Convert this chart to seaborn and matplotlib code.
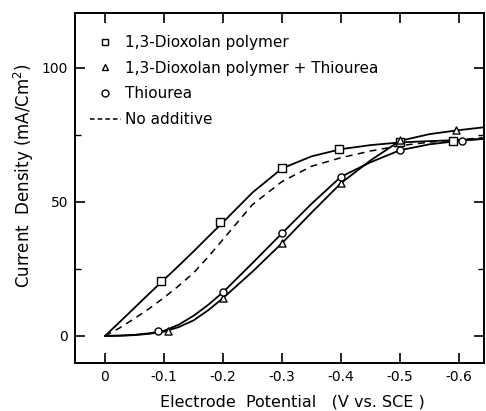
import matplotlib
matplotlib.use("Agg")
import matplotlib.pyplot as plt
from matplotlib.lines import Line2D
from matplotlib.ticker import FixedLocator
import pandas as pd
import seaborn as sns

# Measured points: cathodic potential magnitude (V vs. SCE) and current density (mA/cm^2)
dioxolan_x = [0.095, 0.195, 0.300, 0.397, 0.500, 0.590]
dioxolan_y = [20.6, 42.4, 62.7, 69.7, 72.3, 72.9]
combo_x = [0.107, 0.200, 0.300, 0.400, 0.500, 0.595]
combo_y = [1.7, 14.1, 34.6, 57.0, 73.0, 76.8]
thiourea_x = [0.090, 0.200, 0.300, 0.400, 0.500, 0.605]
thiourea_y = [2.0, 16.3, 38.3, 59.4, 69.3, 72.8]

# Traced polarization curves
curve_x = [0, 0.025, 0.05, 0.075, 0.10, 0.125, 0.15, 0.175, 0.20, 0.25, 0.30,
           0.35, 0.40, 0.45, 0.50, 0.55, 0.60, 0.64]
dioxolan_curve = [0, 5.2, 10.5, 15.8, 21.0, 26.2, 31.5, 37.0, 42.4, 53.5, 62.5,
                  67.0, 69.7, 71.2, 72.2, 72.7, 73.1, 73.5]
combo_curve = [0, 0.1, 0.3, 0.8, 1.6, 3.3, 5.8, 9.6, 14.1, 24.0, 34.6,
               46.0, 57.0, 65.5, 72.8, 75.3, 76.8, 77.8]
thiourea_curve = [0, 0.1, 0.4, 1.0, 1.9, 4.2, 7.5, 11.6, 16.3, 27.2, 38.3,
                  49.3, 59.4, 64.8, 69.3, 71.5, 72.8, 73.5]
no_additive_curve = [0, 3.0, 6.5, 10.2, 14.3, 18.7, 23.5, 29.5, 36.0, 49.0, 57.6,
                     63.3, 66.5, 69.0, 71.0, 72.3, 73.2, 74.0]

x_ticks = [0, 0.1, 0.2, 0.3, 0.4, 0.5, 0.6]
x_tick_labels = ["0", "-0.1", "-0.2", "-0.3", "-0.4", "-0.5", "-0.6"]
y_ticks = [0, 50, 100]
y_tick_labels = ["0", "50", "100"]

legend_labels = ["1,3-Dioxolan polymer", "1,3-Dioxolan polymer + Thiourea",
                 "Thiourea", "No additive"]

sns.set_theme(style="ticks")
plt.rcParams["font.family"] = ["DejaVu Sans"]
plt.rcParams.update({"text.color": "black", "axes.labelcolor": "black",
                     "xtick.color": "black", "ytick.color": "black"})

fig = plt.figure(figsize=(4.86, 4.11), dpi=100)
ax = fig.add_axes([75 / 486, 1 - 363 / 411, 409 / 486, 350 / 411])

lw = 1.3
for ys in (dioxolan_curve, combo_curve, thiourea_curve):
    df = pd.DataFrame({"x": curve_x, "y": ys})
    sns.lineplot(data=df, x="x", y="y", ax=ax, color="black", lw=lw,
                 sort=False, estimator=None)
df = pd.DataFrame({"x": curve_x, "y": no_additive_curve})
sns.lineplot(data=df, x="x", y="y", ax=ax, color="black", lw=1.1,
             sort=False, estimator=None, dashes=False, linestyle=(0, (4.5, 3.5)))

for xs, ys, m in ((dioxolan_x, dioxolan_y, "s"),
                  (combo_x, combo_y, "^"),
                  (thiourea_x, thiourea_y, "o")):
    df = pd.DataFrame({"x": xs, "y": ys})
    sns.scatterplot(data=df, x="x", y="y", ax=ax, marker=m, s=26,
                    facecolor="white", edgecolor="black", linewidth=1.0, zorder=5)

ax.set_xlim(-0.0508, 0.6424)
ax.set_ylim(-10.1, 120.5)
ax.set_xticks(x_ticks)
ax.set_xticklabels(x_tick_labels, fontsize=10)
ax.set_yticks(y_ticks)
ax.set_yticklabels(y_tick_labels, fontsize=10)
ax.yaxis.set_minor_locator(FixedLocator([25, 75]))
ax.tick_params(which="major", direction="in", length=7, width=1.2,
               top=True, right=True, colors="black")
ax.tick_params(which="minor", direction="in", length=4, width=1.0,
               left=True, right=True, colors="black")
ax.tick_params(axis="x", pad=5)
ax.tick_params(axis="y", pad=5)
for sp in ax.spines.values():
    sp.set_visible(True)
    sp.set_linewidth(1.4)
    sp.set_color("black")

ax.set_xlabel("Electrode  Potential   (V vs. SCE )", fontsize=11.5,
              ha="left", va="center")
ax.xaxis.set_label_coords((160 - 75) / 409, (363 - 402) / 350)
ax.set_ylabel("Current  Density (mA/Cm$^2$)", fontsize=12,
              ha="center", va="center")
ax.yaxis.set_label_coords((24 - 75) / 409, (363 - 176) / 350)

handles = [
    Line2D([], [], ls="none", marker="s", ms=5, mfc="white", mec="black", mew=1.0),
    Line2D([], [], ls="none", marker="^", ms=5, mfc="white", mec="black", mew=1.0),
    Line2D([], [], ls="none", marker="o", ms=5, mfc="white", mec="black", mew=1.0),
    Line2D([], [], color="black", lw=1.1, ls=(0, (3, 2))),
]
ax.legend(handles, legend_labels, loc="upper left",
          bbox_to_anchor=((90 - 75) / 409, (363 - 35) / 350),
          frameon=False, fontsize=11, handlelength=2.0, handletextpad=0.3,
          labelspacing=0.7, borderpad=0, borderaxespad=0)

fig.savefig("out.png", dpi=100, facecolor="white")
